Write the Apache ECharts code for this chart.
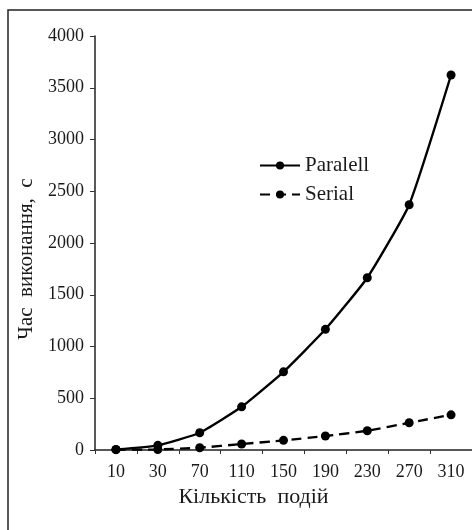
<!DOCTYPE html>
<html>
<head>
<meta charset="utf-8">
<script src="https://cdn.jsdelivr.net/npm/echarts@6/dist/echarts.min.js"></script>
<style>
  html, body { margin: 0; padding: 0; background: #fff; }
  #chart { width: 472px; height: 530px; }
</style>
</head>
<body>
<div id="chart"></div>
<script>
// Дані з графіка
const categories = ['10', '30', '70', '110', '150', '190', '230', '270', '310'];
const paralell = [5, 45, 167, 417, 755, 1166, 1664, 2370, 3623];
const serial = [3, 5, 22, 58, 93, 135, 186, 263, 340];
const seriesNames = ['Paralell', 'Serial'];

const font = '"Liberation Serif", "DejaVu Serif", serif';

const chart = echarts.init(document.getElementById('chart'), null, { renderer: 'canvas' });

const option = {
    animation: false,
    backgroundColor: '#fff',
    textStyle: { fontFamily: font, color: '#1a1a1a' },
    graphic: [
        {
            // рамка навколо рисунка (права і нижня сторони обрізані)
            type: 'rect',
            shape: { x: 8, y: 10, width: 500, height: 560 },
            style: { fill: 'none', stroke: '#222', lineWidth: 1.5 },
            silent: true
        }
    ],
    grid: { left: 95, right: 0, top: 36, bottom: 80, containLabel: false },
    legend: {
        data: seriesNames,
        orient: 'vertical',
        left: 259,
        top: 155,
        padding: 0,
        itemWidth: 40,
        itemHeight: 10,
        itemGap: 8,
        textStyle: { fontFamily: font, fontSize: 21, color: '#1a1a1a' }
    },
    xAxis: {
        type: 'category',
        data: categories,
        boundaryGap: true,
        name: 'Кількість  подій',
        nameLocation: 'middle',
        nameGap: 35,
        // зсув підпису ліворуч, як на оригіналі
        nameTextStyle: { fontFamily: font, fontSize: 22, color: '#1a1a1a', padding: [0, 60, 0, 0] },
        axisLine: { lineStyle: { color: '#222', width: 1.5 } },
        axisTick: { show: true, length: 4, lineStyle: { color: '#333' } },
        axisLabel: { fontFamily: font, fontSize: 18, color: '#1a1a1a', margin: 13 },
        splitLine: { show: false }
    },
    yAxis: {
        type: 'value',
        min: 0,
        max: 4000,
        interval: 500,
        name: 'Час  виконання,  с',
        nameLocation: 'middle',
        nameGap: 53,
        nameTextStyle: { fontFamily: font, fontSize: 21, color: '#1a1a1a', padding: [0, 32, 0, 0] },
        axisLine: { show: true, lineStyle: { color: '#222', width: 1.5 } },
        axisTick: { show: true, length: 5, lineStyle: { color: '#333' } },
        axisLabel: {
            fontFamily: font, fontSize: 18, color: '#1a1a1a', margin: 11,
            formatter: function (value) { return String(value); }
        },
        splitLine: { show: false }
    },
    series: [
        {
            name: seriesNames[0],
            type: 'line',
            data: paralell,
            smooth: 0.15,
            symbol: 'circle',
            symbolSize: 9,
            itemStyle: { color: '#000' },
            lineStyle: { color: '#000', width: 2.4 }
        },
        {
            name: seriesNames[1],
            type: 'line',
            data: serial,
            smooth: 0.15,
            symbol: 'circle',
            symbolSize: 9,
            itemStyle: { color: '#000' },
            lineStyle: { color: '#000', width: 2.4, type: [10, 6] }
        }
    ]
};

chart.setOption(option);
window.addEventListener('resize', chart.resize);
</script>
</body>
</html>
